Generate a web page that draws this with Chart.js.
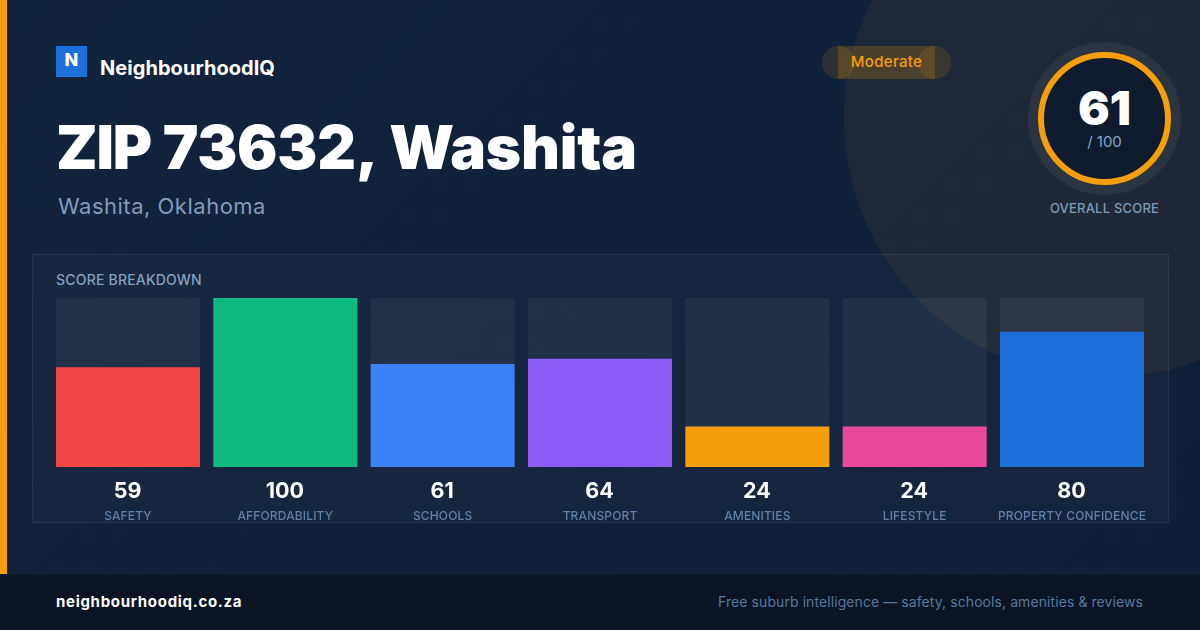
<!DOCTYPE html>
<html>
<head>
<meta charset="utf-8">
<script src="https://cdn.jsdelivr.net/npm/chart.js@4"></script>
<style>
html, body { margin: 0; padding: 0; background: #0f1f38; }
body { width: 1200px; height: 630px; position: relative; overflow: hidden; font-family: Inter, sans-serif; }
div, svg, canvas { position: absolute; }
.bg { left: 0; top: 0; width: 1200px; height: 630px; background: linear-gradient(135deg, #12233c, #0f1f38); }
.dots { left: 0; top: 0; width: 1200px; height: 630px; background-image: radial-gradient(circle at 24px 24px, rgba(255,255,255,0.035) 1.5px, transparent 1.5px); background-size: 32px 32px; }
.glow { left: 844px; top: -142px; width: 520px; height: 520px; border-radius: 50%; background: rgba(245,158,11,0.065); }
.strip { left: 0; top: 0; width: 7px; height: 574px; background: #f59e0b; }
.footer { left: 0; top: 574px; width: 1200px; height: 56px; background: #0a1423; border-top: 1px solid #111d30; box-sizing: border-box; }
.t { white-space: nowrap; line-height: 1; }
.panel { left: 32px; top: 254px; width: 1137px; height: 269px; box-sizing: border-box; background: rgba(255,255,255,0.025); border: 1px solid rgba(255,255,255,0.07); }
.halo { left: 1028px; top: 42px; width: 153px; height: 153px; border-radius: 50%; background: rgba(255,255,255,0.06); }
.ring { left: 1038px; top: 52px; width: 133px; height: 133px; border-radius: 50%; box-sizing: border-box; border: 6px solid #f59e0b; background: #0f1b2e; }
</style>
</head>
<body>
<div class="bg"></div>
<div class="dots"></div>
<div class="glow"></div>
<div class="strip"></div>

<div style="left:56px;top:46px;width:31px;height:31px;background:#1d6fd9"></div>
<div class="t" style="left:56px;top:51px;width:31px;text-align:center;font-size:18px;font-weight:800;color:#fff">N</div>
<div class="t" style="left:100px;top:58px;font-size:20px;font-weight:700;color:#fff;letter-spacing:0.05px">NeighbourhoodIQ</div>
<div class="t" style="left:56px;top:117px;font-size:60px;font-weight:900;color:#fff;letter-spacing:-0.2px"><span style="letter-spacing:-1.2px">ZIP</span> 73632,<span style="margin-left:-0.5px"> Washita</span></div>
<div class="t" style="left:58px;top:195px;font-size:22px;color:#819bbb;letter-spacing:0.5px">Washita, Oklahoma</div>

<svg style="left:822px;top:46px" width="130" height="33">
  <rect x="16" y="0" width="97" height="33" fill="#f59e0b" fill-opacity="0.2"/>
  <circle cx="16.5" cy="16.5" r="16.5" fill="#f59e0b" fill-opacity="0.13"/>
  <circle cx="112.5" cy="16.5" r="16.5" fill="#f59e0b" fill-opacity="0.13"/>
</svg>
<div class="t" style="left:822px;top:54px;width:129px;text-align:center;font-size:15px;font-weight:500;color:#f59e0b;letter-spacing:0.3px">Moderate</div>

<div class="halo"></div>
<div class="ring"></div>
<div class="t" style="left:1028px;top:84px;width:153px;text-align:center;font-size:47px;font-weight:900;color:#fff">61</div>
<div class="t" style="left:1028px;top:134px;width:153px;text-align:center;font-size:15px;color:#8ba3c0">/ 100</div>
<div class="t" style="left:1028px;top:202px;width:153px;text-align:center;font-size:13px;font-weight:500;color:#7f9ab8;letter-spacing:0.2px">OVERALL SCORE</div>

<div class="panel"></div>
<div class="t" style="left:56px;top:273px;font-size:14px;font-weight:500;color:#86a0bd;letter-spacing:0.2px">SCORE BREAKDOWN</div>

<div class="footer"></div>
<div class="t" style="left:56px;top:594px;font-size:15px;font-weight:700;color:#fff;letter-spacing:0.7px">neighbourhoodiq.co.za</div>
<div class="t" style="right:57px;top:595px;font-size:14px;color:#557a9f;letter-spacing:0.08px">Free suburb intelligence — safety, schools, amenities &amp; reviews</div>

<canvas id="scores" width="1200" height="630" style="left:0;top:0"></canvas>

<script>
var categories = ["SAFETY", "AFFORDABILITY", "SCHOOLS", "TRANSPORT", "AMENITIES", "LIFESTYLE", "PROPERTY CONFIDENCE"];
var scores = [59, 100, 61, 64, 24, 24, 80];
var track = [100, 100, 100, 100, 100, 100, 100];
var barColors = ['#f24545', '#10b981', '#3b82f6', '#8b5cf6', '#f59e0b', '#ec4899', '#1d6fd9'];

// big number above each tick label
var valueLabels = {
    id: 'valueLabels',
    beforeDraw: function (chart) {
        chart.ctx.letterSpacing = '0.14px';
    },
    afterDraw: function (chart) {
        var ctx = chart.ctx;
        var meta = chart.getDatasetMeta(0);
        ctx.save();
        ctx.letterSpacing = '0px';
        ctx.font = '700 21.5px Inter';
        ctx.fillStyle = '#ffffff';
        ctx.textAlign = 'center';
        ctx.textBaseline = 'middle';
        meta.data.forEach(function (bar, i) {
            ctx.fillText(scores[i], bar.x - 0.5, 492);
        });
        ctx.restore();
    }
};

new Chart(document.getElementById('scores'), {
    type: 'bar',
    data: {
        labels: categories,
        datasets: [{
            data: scores,
            backgroundColor: barColors,
            categoryPercentage: 1,
            barPercentage: 144 / 157.33
        }, {
            data: track,
            backgroundColor: 'rgba(255,255,255,0.05)',
            categoryPercentage: 1,
            barPercentage: 144 / 157.33
        }]
    },
    options: {
        responsive: false,
        animation: false,
        layout: { padding: { left: 49.33, right: 49.33, top: 298, bottom: 103 } },
        plugins: { legend: { display: false }, tooltip: { enabled: false } },
        scales: {
            x: {
                stacked: true,
                grid: { display: false },
                border: { display: false },
                afterFit: function (axis) {
                    axis.height = 60; // room for number + label below the bars
                },
                ticks: {
                    autoSkip: false,
                    maxRotation: 0,
                    padding: 34,
                    color: '#5f80a8',
                    font: { family: 'Inter', size: 12, weight: '500' }
                }
            },
            y: { display: false, min: 0, max: 100 }
        }
    },
    plugins: [valueLabels]
});
</script>
</body>
</html>
